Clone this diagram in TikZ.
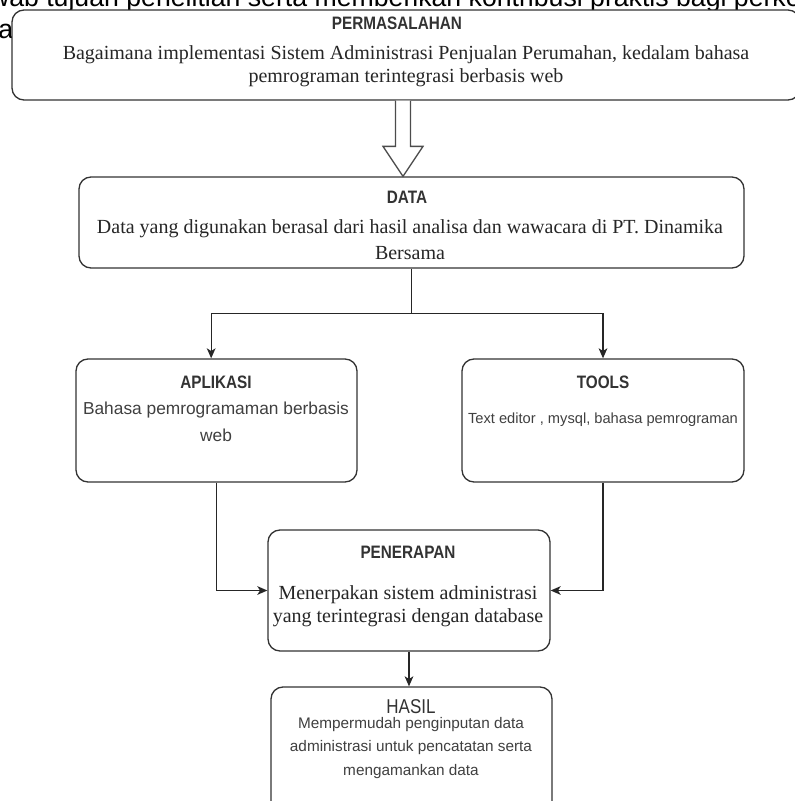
\documentclass[tikz,border=0pt]{standalone}
\usepackage{fontspec}
\setmainfont{Liberation Serif}
\setsansfont{Liberation Sans}
\newfontfamily\headfont[FakeStretch=0.85]{Liberation Sans}
\usetikzlibrary{arrows.meta,calc}

\begin{document}
\begin{tikzpicture}[x=0.75pt, y=-0.75pt,
    box/.style={draw=black!80, line width=1pt, rounded corners=9pt, fill=white},
    head/.style={text=black!80, inner sep=0pt, font=\headfont\bfseries\fontsize{13.5}{16}\selectfont},
    serif/.style={text=black!85, inner sep=0pt, align=center, font=\fontsize{15}{17.5}\selectfont},
    sans/.style={text=black!75, inner sep=0pt, align=center, font=\sffamily\fontsize{13}{20}\selectfont},
    conn/.style={draw=black!85, line width=1pt, -{Stealth[length=7.5pt,width=6.5pt,inset=2pt]}},
    hollow/.style={draw=black!70, line width=1pt, fill=white}]
  \useasboundingbox (0,0) rectangle (795,801);

  % page text behind the figure
  \node[anchor=base west, inner sep=0pt, font=\sffamily\fontsize{20}{24}\selectfont] (pg1) at (-31,6) {jawab tujuan penelitian serta memberikan kontribusi praktis bagi perkembangan};
  \node[anchor=base west, inner sep=0pt, font=\sffamily\fontsize{20}{24}\selectfont] (pg2) at (-2,38) {a};

  % boxes
  \node[box, minimum width=591pt, minimum height=67.5pt] (masalah) at (406,55) {};
  \node[box, minimum width=498.75pt, minimum height=68.25pt] (data) at (411.5,222.5) {};
  \node[box, minimum width=210.75pt, minimum height=92.25pt] (apl) at (216.5,420.5) {};
  \node[box, minimum width=211.5pt, minimum height=92.25pt] (tools) at (603,420.5) {};
  \node[box, minimum width=211.5pt, minimum height=90.75pt] (terap) at (409,590.5) {};
  \node[box, minimum width=210.75pt, minimum height=107.25pt] (hasil) at (411.5,758.5) {};

  % titles and texts
  \node[head] (masalahT) at (397,23) {PERMASALAHAN};
  \node[serif] (masalahB) at (406,66) {Bagaimana implementasi Sistem Administrasi Penjualan Perumahan, kedalam bahasa\\pemrograman terintegrasi berbasis web};
  \node[head] (dataT) at (407,197) {DATA};
  \node[serif, font=\fontsize{15}{19}\selectfont] (dataB) at (410,239.5) {Data yang digunakan berasal dari hasil analisa dan wawacara di PT. Dinamika\\Bersama};
  \node[head] (aplT) at (216,382) {APLIKASI};
  \node[sans] (aplB) at (216,421.5) {Bahasa pemrogramaman berbasis\\web};
  \node[head] (toolsT) at (603,382) {TOOLS};
  \node[sans, font=\sffamily\fontsize{11}{13}\selectfont] (toolsB) at (603,420) {Text editor , mysql, bahasa pemrograman};
  \node[head] (terapT) at (408,552) {PENERAPAN};
  \node[serif, font=\fontsize{15}{17.25}\selectfont] (terapB) at (408,606.5) {Menerpakan sistem administrasi\\yang terintegrasi dengan database};
  \node[head, font=\headfont\fontsize{15}{17}\selectfont] (hasilT) at (411,707) {HASIL};
  \node[sans, font=\sffamily\fontsize{11.5}{17.5}\selectfont] (hasilB) at (411,748) {Mempermudah penginputan data\\administrasi untuk pencatatan serta\\mengamankan data};

  % hollow arrow
  \coordinate (ha) at ($(masalah.south)+(-3,0)$);
  \coordinate (hb) at (ha |- data.north);
  \draw[hollow] ($(ha)+(-7.5,0)$) -- ($(hb)+(-7.5,-30)$) -- ($(hb)+(-20,-30)$) -- (hb)
    -- ($(hb)+(20,-30)$) -- ($(hb)+(7.5,-30)$) -- ($(ha)+(7.5,0)$);

  % connectors
  \draw[conn] (data.south) -- ++(0,45) coordinate (split) -| ([xshift=-4pt]apl.north);
  \draw[conn] (split) -| (tools.north);
  \draw[conn] (apl.south) |- (terap.west);
  \draw[conn] (tools.south) |- (terap.east);
  \draw[conn] (terap.south) -- (terap.south |- hasil.north);
\end{tikzpicture}
\end{document}
